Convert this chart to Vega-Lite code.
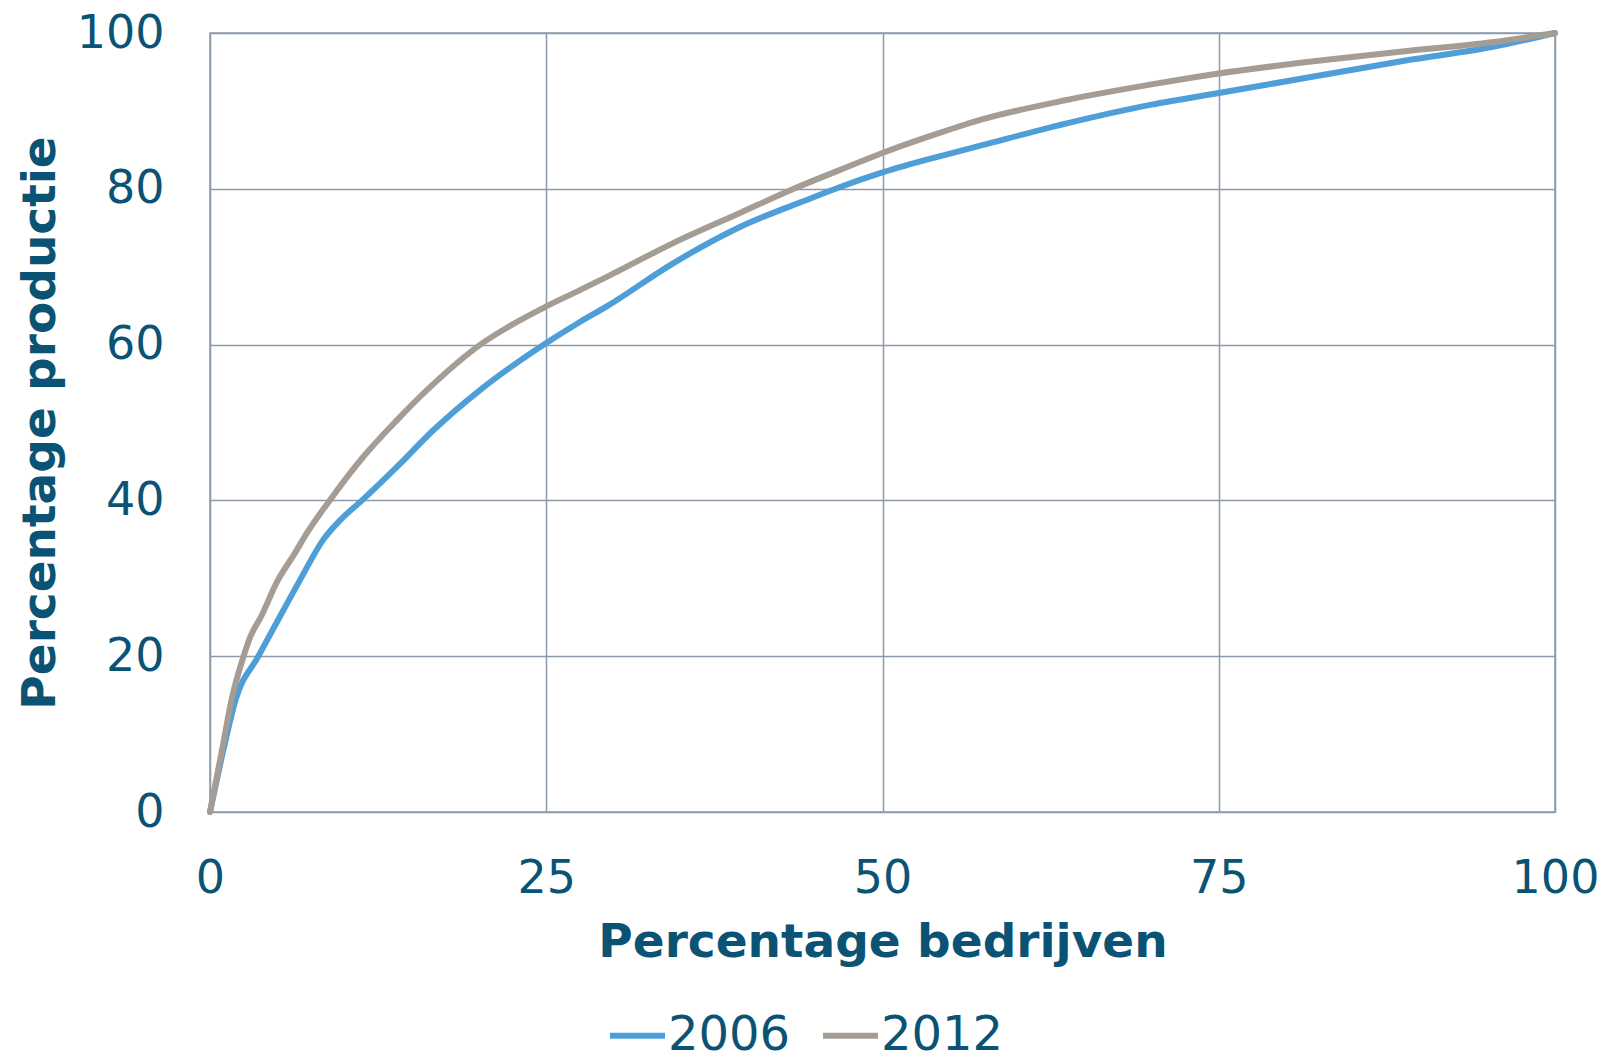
{
  "$schema": "https://vega.github.io/schema/vega-lite/v6.json",
  "autosize": {"type": "none"},
  "width": 1345,
  "height": 779,
  "padding": {"left": 210, "top": 33, "right": 50, "bottom": 248},
  "background": "white",
  "config": {
    "font": "DejaVu Sans",
    "view": {"stroke": "#8C9AAA", "strokeWidth": 1.5},
    "axis": {
      "grid": true,
      "gridColor": "#8C9AAA",
      "gridWidth": 1.5,
      "gridOpacity": 1,
      "domain": false,
      "ticks": false,
      "labelFont": "DejaVu Sans",
      "labelFontSize": 46,
      "labelColor": "#0B5374",
      "titleFont": "DejaVu Sans",
      "titleFontSize": 47,
      "titleFontWeight": "bold",
      "titleColor": "#0B5374"
    },
    "legend": {
      "labelFont": "DejaVu Sans",
      "labelFontSize": 48,
      "labelColor": "#0B5374"
    }
  },
  "data": {
    "values": [
      {"x": 0, "y": 0, "jaar": "2006"},
      {"x": 1, "y": 8, "jaar": "2006"},
      {"x": 1.9, "y": 14.4, "jaar": "2006"},
      {"x": 3.6, "y": 20, "jaar": "2006"},
      {"x": 5.2, "y": 25.1, "jaar": "2006"},
      {"x": 6.7, "y": 29.8, "jaar": "2006"},
      {"x": 8.4, "y": 34.9, "jaar": "2006"},
      {"x": 9.7, "y": 37.5, "jaar": "2006"},
      {"x": 11.3, "y": 40, "jaar": "2006"},
      {"x": 13.9, "y": 44.3, "jaar": "2006"},
      {"x": 16.6, "y": 49, "jaar": "2006"},
      {"x": 20.1, "y": 54.2, "jaar": "2006"},
      {"x": 22.6, "y": 57.4, "jaar": "2006"},
      {"x": 25, "y": 60.2, "jaar": "2006"},
      {"x": 27.5, "y": 62.9, "jaar": "2006"},
      {"x": 29.5, "y": 64.9, "jaar": "2006"},
      {"x": 34.4, "y": 70.4, "jaar": "2006"},
      {"x": 39.4, "y": 75.1, "jaar": "2006"},
      {"x": 44.4, "y": 78.6, "jaar": "2006"},
      {"x": 46.8, "y": 80.2, "jaar": "2006"},
      {"x": 50, "y": 82.1, "jaar": "2006"},
      {"x": 54.3, "y": 84.2, "jaar": "2006"},
      {"x": 57.4, "y": 85.6, "jaar": "2006"},
      {"x": 63.7, "y": 88.4, "jaar": "2006"},
      {"x": 70, "y": 90.8, "jaar": "2006"},
      {"x": 75, "y": 92.3, "jaar": "2006"},
      {"x": 82.7, "y": 94.6, "jaar": "2006"},
      {"x": 89, "y": 96.5, "jaar": "2006"},
      {"x": 95.3, "y": 98.2, "jaar": "2006"},
      {"x": 100, "y": 100, "jaar": "2006"},
      {"x": 0, "y": 0, "jaar": "2012"},
      {"x": 0.9, "y": 8, "jaar": "2012"},
      {"x": 1.6, "y": 14.4, "jaar": "2012"},
      {"x": 2.5, "y": 20, "jaar": "2012"},
      {"x": 3, "y": 22.5, "jaar": "2012"},
      {"x": 3.8, "y": 25.1, "jaar": "2012"},
      {"x": 5, "y": 29.6, "jaar": "2012"},
      {"x": 6.3, "y": 33.2, "jaar": "2012"},
      {"x": 7.2, "y": 35.8, "jaar": "2012"},
      {"x": 8.9, "y": 40, "jaar": "2012"},
      {"x": 11.4, "y": 45.6, "jaar": "2012"},
      {"x": 13.9, "y": 50.3, "jaar": "2012"},
      {"x": 16.4, "y": 54.6, "jaar": "2012"},
      {"x": 20.1, "y": 60, "jaar": "2012"},
      {"x": 22.6, "y": 62.7, "jaar": "2012"},
      {"x": 25, "y": 64.9, "jaar": "2012"},
      {"x": 27.5, "y": 67, "jaar": "2012"},
      {"x": 29.5, "y": 68.7, "jaar": "2012"},
      {"x": 34.4, "y": 73, "jaar": "2012"},
      {"x": 39.4, "y": 76.9, "jaar": "2012"},
      {"x": 43.4, "y": 80, "jaar": "2012"},
      {"x": 46.8, "y": 82.4, "jaar": "2012"},
      {"x": 50, "y": 84.6, "jaar": "2012"},
      {"x": 54.3, "y": 87.2, "jaar": "2012"},
      {"x": 57.4, "y": 88.9, "jaar": "2012"},
      {"x": 63.7, "y": 91.4, "jaar": "2012"},
      {"x": 70, "y": 93.4, "jaar": "2012"},
      {"x": 75, "y": 94.8, "jaar": "2012"},
      {"x": 82.7, "y": 96.5, "jaar": "2012"},
      {"x": 89, "y": 97.7, "jaar": "2012"},
      {"x": 95.3, "y": 98.8, "jaar": "2012"},
      {"x": 100, "y": 100, "jaar": "2012"}
    ]
  },
  "mark": {"type": "line", "strokeWidth": 6, "strokeCap": "round", "strokeJoin": "round", "interpolate": "monotone"},
  "encoding": {
    "x": {
      "field": "x", "type": "quantitative",
      "scale": {"domain": [0, 100], "nice": false},
      "axis": {"values": [0, 25, 50, 75, 100], "title": "Percentage bedrijven", "labelPadding": 44, "titlePadding": 18, "labelFlush": false}
    },
    "y": {
      "field": "y", "type": "quantitative",
      "scale": {"domain": [0, 100], "nice": false},
      "axis": {"values": [0, 20, 40, 60, 80, 100], "title": "Percentage productie", "labelPadding": 46, "titlePadding": 12, "labelFlush": false}
    },
    "color": {
      "field": "jaar", "type": "nominal",
      "scale": {"domain": ["2006", "2012"], "range": ["#4E9FD8", "#A59C94"]},
      "legend": {
        "title": null,
        "orient": "none",
        "direction": "horizontal",
        "legendX": 397,
        "legendY": 972,
        "symbolType": "stroke",
        "symbolSize": 3025,
        "symbolStrokeWidth": 6,
        "labelOffset": 0,
        "columnPadding": 20
      }
    }
  }
}
